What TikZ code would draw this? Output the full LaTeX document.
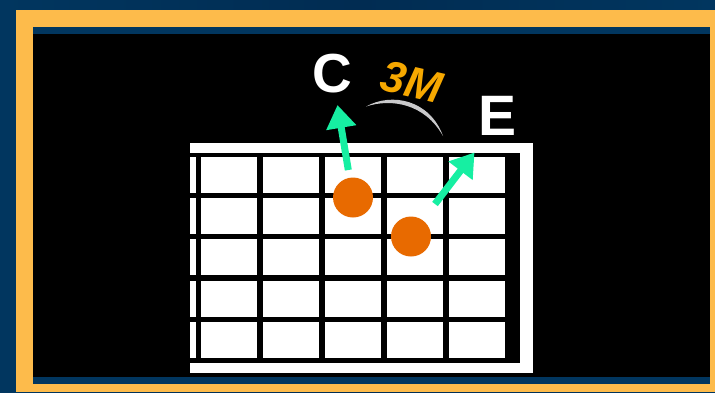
\documentclass[tikz,border=0pt]{standalone}
\usepackage{fontspec}
\setmainfont{Liberation Sans}
\usetikzlibrary{arrows.meta}
\definecolor{bgblue}{HTML}{01365F}
\definecolor{bgbluedark}{HTML}{012C52}
\definecolor{frameyellow}{HTML}{FDBB4B}
\definecolor{dotorange}{HTML}{E86A00}
\definecolor{arrowgreen}{HTML}{16EFA2}
\definecolor{labelorange}{HTML}{F6A800}
\definecolor{arcgray}{HTML}{C9C9CB}
\begin{document}
\begin{tikzpicture}[x=1pt,y=-1pt,
  fretdot/.style={circle, fill=dotorange, minimum size=40pt, inner sep=0pt},
  note/.style={text=white, font=\bfseries\fontsize{55}{55}\selectfont, inner sep=0pt},
  move/.style={arrowgreen, line width=7pt, -{Triangle[width=29pt,length=23pt]}}]
\useasboundingbox (0,0) rectangle (715,392);
% background and frame
\shade[left color=bgblue, right color=bgblue, middle color=bgbluedark] (0,0) rectangle (715,392);
\fill[frameyellow] (16,10) rectangle (715,392);
\fill[bgblue] (33,27) rectangle (710,384);
\fill[black] (33,34) rectangle (710,377);
% fretboard
\fill[white] (190,143) rectangle (533,373);
\fill[black] (190,153) rectangle (520,363);
\foreach \r in {0,...,4}{
  \fill[white] (190,{156.7+41.3*\r}) rectangle +(6,36);
  \foreach \c in {0,...,4}
    \fill[white] ({201.3+61.8*\c},{156.7+41.3*\r}) rectangle +(56,36);
}
% dots
\node[fretdot] (d1) at (353,197.5) {};
\node[fretdot] (d2) at (411,236.5) {};
% labels
\node[note] (C) at (332.5,74) {C};
\node[note, font=\bfseries\fontsize{57}{57}\selectfont] (E) at (498,116) {E};
\node[text=labelorange, font=\bfseries\itshape\fontsize{44}{44}\selectfont, inner sep=0pt, rotate=-13] (M) at (411.5,82) {3M};
% interval arc
\fill[arcgray] (366,106.5) .. controls (392,92) and (430,100) .. (443,136)
  .. controls (425,104) and (392,98) .. cycle;
% arrows
\coordinate (a1s) at (348.3,170);
\coordinate (a1e) at (337.5,105);
\coordinate (a2s) at (435,204);
\coordinate (a2e) at (474.5,152.5);
\draw[move] (a1s) -- (a1e);
\draw[move] (a2s) -- (a2e);
\end{tikzpicture}
\end{document}
